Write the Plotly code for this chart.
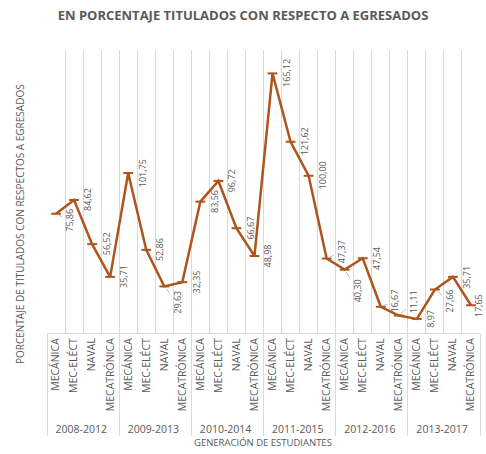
import plotly.graph_objects as go

# ---- data ----
generaciones = ["2008-2012", "2009-2013", "2010-2014", "2011-2015", "2012-2016", "2013-2017"]
carreras = ["MECÁNICA", "MEC-ELÉCT", "NAVAL", "MECATRÓNICA"]
porcentajes = [
    75.86, 84.62, 56.52, 35.71,
    101.75, 52.86, 29.63, 32.35,
    83.56, 96.72, 66.67, 48.98,
    165.12, 121.62, 100.00, 47.37,
    40.30, 47.54, 16.67, 11.11,
    8.97, 27.66, 35.71, 17.65,
]
titulo = "EN PORCENTAJE TITULADOS CON RESPECTO A EGRESADOS"
titulo_y = "PORCENTAJE DE TITULADOS CON RESPECTOS A EGRESADOS"
titulo_x = "GENERACIÓN DE ESTUDIANTES"

# ---- styles ----
LINE_C = "#AD551D"
GRAY = "#595959"
GRID = "#D9D9D9"
FONT = "Open Sans, sans-serif"
# label offsets in pixels (dx, dy screen) for manually moved labels with leader lines
DEFAULT_OFF = (14, 0)
MOVED = {0: (14, 7), 6: (13, 16), 15: (15, -7), 16: (13, 21),
         18: (14, -6), 19: (15, -14), 21: (15, 11), 23: (7, 0)}

grp = [g for g in generaciones for _ in carreras]
cat = [c for _ in generaciones for c in carreras]
n = len(porcentajes)

fig = go.Figure()
fig.add_trace(go.Scatter(
    x=[grp, cat], y=porcentajes, mode="lines+markers",
    line=dict(color=LINE_C, width=2.5),
    marker=dict(symbol="line-ew", size=7, color=LINE_C, line=dict(color=LINE_C, width=2)),
    hoverinfo="skip", showlegend=False,
))

annotations = []
for i, v in enumerate(porcentajes):
    dx, dy = MOVED.get(i, DEFAULT_OFF)
    leader = i in MOVED and i != 23
    annotations.append(dict(
        x=i, y=v, xref="x2", yref="y",
        text=f"{v:.2f}".replace(".", ","), textangle=-90,
        showarrow=True, ax=dx, ay=dy, arrowhead=0, arrowwidth=0.8, standoff=3,
        arrowcolor="#A6A6A6" if leader else "rgba(0,0,0,0)",
        font=dict(family=FONT, size=9, color=GRAY),
    ))

annotations.append(dict(
    text=titulo_y, xref="paper", yref="paper", x=(20 - 47) / 433, y=(333 - 224) / 283,
    xanchor="center", yanchor="middle",
    textangle=-90, showarrow=False, font=dict(family=FONT, size=10, color=GRAY),
))
annotations.append(dict(
    text=titulo_x, xref="paper", yref="paper", x=(263 - 47) / 433, y=(333 - 442) / 283,
    xanchor="center", yanchor="middle",
    showarrow=False, font=dict(family=FONT, size=9.5, color=GRAY),
))

fig.update_layout(
    width=486, height=454,
    margin=dict(l=47, r=6, t=50, b=121, autoexpand=False),
    paper_bgcolor="white", plot_bgcolor="white",
    title=dict(text=f"<b>{titulo}</b>", x=0.5, xanchor="center", y=1 - 15 / 454, yanchor="middle",
               font=dict(family=FONT, size=13, color=GRAY)),
    xaxis=dict(type="multicategory", tickson="boundaries", showgrid=True, gridcolor=GRID, gridwidth=1,
               range=[-0.5, n - 0.5], autorange=False,
               showline=True, linecolor=GRID, linewidth=1, ticks="", tickangle=-90,
               showdividers=True, dividercolor=GRID, dividerwidth=1,
               tickfont=dict(family=FONT, size=10.5, color=GRAY), automargin=False),
    xaxis2=dict(overlaying="x", range=[-0.5, n - 0.5], autorange=False, visible=False),
    yaxis=dict(range=[0, 180], autorange=False, showgrid=False, showticklabels=False,
               zeroline=False, showline=False, ticks=""),
    annotations=annotations,
)

fig.write_html("out.html", config={"displayModeBar": False},
               post_script="document.body.style.margin='0';document.body.style.overflow='hidden';")
